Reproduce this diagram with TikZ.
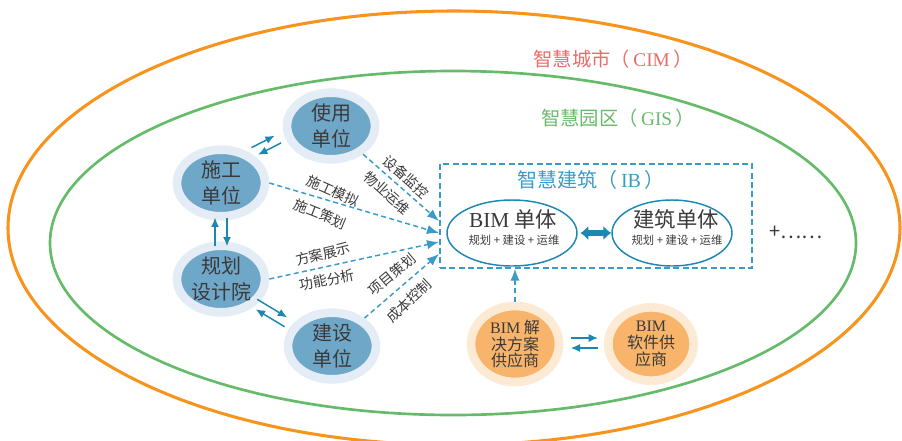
\documentclass[tikz,border=0pt]{standalone}
\usepackage{fontspec}
\setmainfont{Noto Sans CJK SC}
\newfontfamily\lat{Liberation Serif}
\usetikzlibrary{shapes.geometric,arrows.meta,calc}
\definecolor{cimred}{HTML}{EC6A6A}
\definecolor{cimorg}{HTML}{F7941D}
\definecolor{gisgrn}{HTML}{66BB6A}
\definecolor{ibblue}{HTML}{1B87B3}
\definecolor{ibdash}{HTML}{3A9CC6}
\definecolor{rolefill}{HTML}{6FA7C9}
\definecolor{rolering}{HTML}{E4EDF5}
\definecolor{supfill}{HTML}{F8B46B}
\definecolor{supring}{HTML}{FDEAD5}
\definecolor{txtgray}{HTML}{3A3A3A}
\begin{document}
\begin{tikzpicture}[x=0.75pt, y=-0.75pt,
    role/.style={ellipse, fill=rolefill, draw=rolering, line width=6.5pt, minimum width=66pt, minimum height=50pt, inner sep=0pt, align=center, text=txtgray, font=\fontsize{15}{19}\selectfont},
    supplier/.style={ellipse, fill=supfill, draw=supring, line width=6.5pt, inner sep=0pt, align=center, text=txtgray, font=\fontsize{12}{12.5}\selectfont},
    unit/.style={ellipse, draw=ibblue, line width=1.1pt, minimum height=49.5pt},
    arr/.style={ibblue, line width=1.1pt, -{Latex[length=7pt,width=6pt]}},
    darr/.style={ibdash, line width=1.1pt, dash pattern=on 3.75pt off 2.5pt, -{Latex[length=9pt,width=7pt]}},
    lbl/.style={text=txtgray, font=\fontsize{10.5}{12}\selectfont}]
    \useasboundingbox (0,0) rectangle (902,440);
    % 智慧城市 / 智慧园区
    \draw[cimorg, line width=2.3pt] (454,228) ellipse [x radius=446, y radius=217];
    \draw[gisgrn, line width=2pt] (453,243) ellipse [x radius=403, y radius=172];
    \node[text=cimred, font=\fontsize{14.5}{16}\selectfont] (cim) at (613,59) {智慧城市（\,{\lat CIM}\,）};
    \node[text=gisgrn, font=\fontsize{14.5}{16}\selectfont] (gis) at (618,118) {智慧园区（\,{\lat GIS}\,）};
    % 智慧建筑
    \node[draw=ibdash, line width=1pt, dash pattern=on 4.5pt off 2.5pt, minimum width=234pt, minimum height=78pt] (ib) at (596,216) {};
    \node[text=ibdash, font=\fontsize{15}{16}\selectfont] (ibt) at (591,180) {智慧建筑（\,{\lat IB}\,）};
    \node[unit, minimum width=97.5pt] (bim) at (512,233) {};
    \node[unit, minimum width=90pt] (jz) at (672,233) {};
    \node[text=txtgray, font=\fontsize{16}{18}\selectfont] (bimt) at (513,219) {{\lat BIM} 单体};
    \node[text=txtgray, font=\fontsize{8.5}{10}\selectfont] (bims) at (514,240) {规划 + 建设 + 运维};
    \node[text=txtgray, font=\fontsize{16}{18}\selectfont] (jzt) at (676,219) {建筑单体};
    \node[text=txtgray, font=\fontsize{8.5}{10}\selectfont] (jzs) at (677,240) {规划 + 建设 + 运维};
    \draw[ibblue, line width=4pt, shorten <=2pt, {Latex[length=6pt,width=11pt]}-{Latex[length=6pt,width=11pt]}] (bim) -- (jz);
    \node[text=txtgray, font=\fontsize{15}{17}\selectfont] (more) at (796,232) {+……};
    % 各参与方
    \node[role] (sy) at (331,126) {使用\\单位};
    \node[role] (sg) at (221,183) {施工\\单位};
    \node[role] (gh) at (221,279) {规划\\设计院};
    \node[role] (js) at (332,346) {建设\\单位};
    \node[supplier, minimum width=66pt, minimum height=57pt] (jf) at (515,344) {{\lat BIM} 解\\决方案\\供应商};
    \node[supplier, minimum width=64pt, minimum height=55pt] (rj) at (651,344) {{\lat BIM}\\软件供\\应商};
    % 双向箭头
    \draw[arr] ($(sg)!0.35!(sy)!13pt!90:(sy)$) -- ($(sg)!0.56!(sy)!13pt!90:(sy)$);
    \draw[arr] ($(sg)!0.58!(sy)!6pt!90:(sy)$) -- ($(sg)!0.37!(sy)!6pt!90:(sy)$);
    \draw[arr] ($(sg)!0.66!(gh)!4.5pt!-90:(gh)$) -- ($(sg)!0.36!(gh)!4.5pt!-90:(gh)$);
    \draw[arr] ($(sg)!0.36!(gh)!4.5pt!90:(gh)$) -- ($(sg)!0.66!(gh)!4.5pt!90:(gh)$);
    \draw[arr] ($(gh)!0.32!(js)!1pt!90:(js)$) -- ($(gh)!0.59!(js)!1pt!90:(js)$);
    \draw[arr] ($(gh)!0.61!(js)!-6pt!90:(js)$) -- ($(gh)!0.35!(js)!-6pt!90:(js)$);
    \draw[arr] ($(jf)!0.41!(rj)!4.5pt!90:(rj)$) -- ($(jf)!0.61!(rj)!4.5pt!90:(rj)$);
    \draw[arr] ($(jf)!0.61!(rj)!-3pt!90:(rj)$) -- ($(jf)!0.41!(rj)!-3pt!90:(rj)$);
    % 虚线箭头
    \coordinate (in1) at (439,221);
    \coordinate (in2) at (439,233);
    \coordinate (in3) at (439,242);
    \coordinate (in4) at (439,254);
    \draw[darr] (sy) -- (in1);
    \draw[darr] (sg.east) -- (in2);
    \draw[darr] (gh.east) -- (in3);
    \draw[darr] (js) -- (in4);
    \draw[darr] (jf) -- (jf |- ib.south);
    \node[lbl, rotate=-42] (l1) at (406,177) {设备监控};
    \node[lbl, rotate=-42] (l2) at (387,193) {物业运维};
    \node[lbl, rotate=-24] (l3) at (333,191) {施工模拟};
    \node[lbl, rotate=-22] (l4) at (320,214) {施工策划};
    \node[lbl, rotate=14] (l5) at (323,254) {方案展示};
    \node[lbl, rotate=11] (l6) at (327,280) {功能分析};
    \node[lbl, rotate=40] (l7) at (392,274) {项目策划};
    \node[lbl, rotate=43] (l8) at (409,301) {成本控制};
\end{tikzpicture}
\end{document}
